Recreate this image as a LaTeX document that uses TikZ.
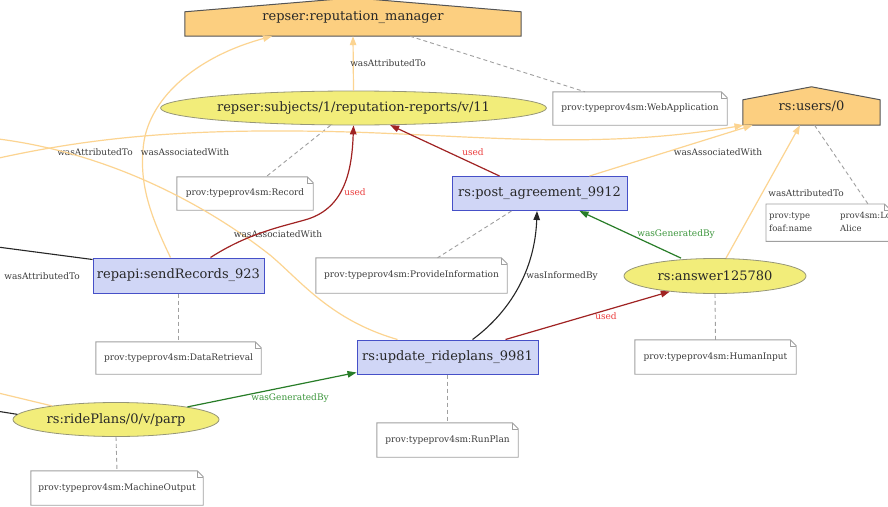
\documentclass[tikz,border=0pt]{standalone}
\usepackage{fontspec}
\setmainfont{DejaVu Serif}
\usetikzlibrary{shapes.geometric,arrows.meta,backgrounds}

\definecolor{agentfill}{RGB}{252,207,128}
\definecolor{agentline}{RGB}{85,85,85}
\definecolor{entityfill}{RGB}{242,237,122}
\definecolor{entityline}{RGB}{150,150,120}
\definecolor{actfill}{RGB}{208,214,246}
\definecolor{actline}{RGB}{70,80,200}
\definecolor{noteline}{RGB}{160,160,160}
\definecolor{attrcol}{RGB}{252,212,145}
\definecolor{usedcol}{RGB}{160,35,35}
\definecolor{usedtext}{RGB}{235,60,60}
\definecolor{gencol}{RGB}{40,125,40}
\definecolor{gentext}{RGB}{60,150,60}
\definecolor{labeltext}{RGB}{60,60,60}
\definecolor{maintext}{RGB}{40,40,40}

% PROV annotation note: box with a folded top-right corner
\newcommand{\provnote}[4][]{%
  \node[notebox,#1] (#2) at (#3) {#4};
  \draw[noteframe] (#2.north west) -- ([xshift=-6pt]#2.north east)
    -- ([yshift=-6pt]#2.north east) -- (#2.south east) -- (#2.south west) -- cycle;
  \draw[noteframe, line width=0.6pt] ([xshift=-6pt]#2.north east) |- ([yshift=-6pt]#2.north east);
}
% PROV agent: house-shaped node (name, centre, width, height, roof, text)
\newcommand{\provagent}[6]{%
  \node[agent, minimum width=#3, minimum height=#4] (#1) at (#2) {#6};
  \begin{scope}[on background layer]
    \filldraw[agentshape] (#1.south west) -- ([yshift=-#5]#1.north west) -- (#1.north)
      -- ([yshift=-#5]#1.north east) -- (#1.south east) -- cycle;
  \end{scope}
}

\begin{document}
\begin{tikzpicture}[x=1pt, y=-1pt,
  mainfont/.style={font=\fontsize{13}{15}\selectfont, text=maintext},
  agent/.style={mainfont, rectangle, inner sep=0pt},
  agentshape/.style={fill=agentfill, draw=agentline, line width=1pt},
  entity/.style={mainfont, ellipse, draw=entityline, fill=entityfill, line width=0.8pt, inner sep=0pt},
  activity/.style={mainfont, rectangle, draw=actline, fill=actfill, line width=1pt, inner sep=0pt},
  notebox/.style={rectangle, inner sep=0pt, font=\fontsize{9}{11}\selectfont, text=labeltext},
  noteframe/.style={draw=noteline, line width=0.9pt},
  edgelabel/.style={font=\fontsize{9}{11}\selectfont, text=labeltext, inner sep=0pt},
  usedlabel/.style={edgelabel, text=usedtext},
  genlabel/.style={edgelabel, text=gentext},
  tip/.style={-{Triangle[length=9pt,width=6.5pt]}},
  attrline/.style={draw=attrcol, line width=1.2pt},
  attrarrow/.style={attrline, tip},
  usedarrow/.style={draw=usedcol, line width=1.2pt, tip},
  genarrow/.style={draw=gencol, line width=1.2pt, tip},
  blackline/.style={draw=black!85, line width=1.1pt},
  blackarrow/.style={blackline, tip},
  notelink/.style={draw=noteline, line width=0.9pt, dash pattern=on 4pt off 3pt}
]
\useasboundingbox (0,0) rectangle (888,506);
\begin{scope}[on background layer]
  \fill[white] (0,0) rectangle (888,506);
\end{scope}

% ---------- agents ----------
\provagent{repman}{353,17}{336pt}{38pt}{14pt}{repser:reputation\_manager}
\provagent{users}{811.5,106}{137pt}{38pt}{13pt}{rs:users/0}

% ---------- entities ----------
\node[entity, minimum width=367pt, minimum height=34pt] (subj) at (353.5,108) {repser:subjects/1/reputation-reports/v/11};
\node[entity, minimum width=182pt, minimum height=35pt] (answer) at (715,276) {rs:answer125780};
\node[entity, minimum width=206pt, minimum height=34pt] (ride) at (116,419.5) {rs:ridePlans/0/v/parp};

% ---------- activities ----------
\node[activity, minimum width=175pt, minimum height=34pt] (post) at (539.5,193.5) {rs:post\_agreement\_9912};
\node[activity, minimum width=171pt, minimum height=35pt] (send) at (178.5,275.5) {repapi:sendRecords\_923};
\node[activity, minimum width=181pt, minimum height=34pt] (update) at (447.5,357) {rs:update\_rideplans\_9981};

% ---------- annotation notes ----------
\provnote[minimum width=174pt, minimum height=33pt]{webapp}{640,108.5}{prov:typeprov4sm:WebApplication}
\provnote[minimum width=136pt, minimum height=33pt]{rec}{245,193.5}{prov:typeprov4sm:Record}
\provnote[minimum width=191pt, minimum height=35pt]{provinfo}{411.5,275.5}{prov:typeprov4sm:ProvideInformation}
\provnote[minimum width=165pt, minimum height=32pt]{dataret}{178.5,358}{prov:typeprov4sm:DataRetrieval}
\provnote[minimum width=161pt, minimum height=34pt]{human}{715.5,357}{prov:typeprov4sm:HumanInput}
\provnote[minimum width=141pt, minimum height=34pt]{runplan}{447.5,440}{prov:typeprov4sm:RunPlan}
\provnote[minimum width=172pt, minimum height=34pt]{machine}{117,488}{prov:typeprov4sm:MachineOutput}
\provnote[anchor=north west, minimum height=37pt, text width=118pt, inner xsep=3pt, align=left,
  font=\fontsize{8.5}{13}\selectfont]{alice}{766,204}{%
  \begin{tabular}{@{}p{71pt}@{}l@{}}prov:type & prov4sm:Lo\\ foaf:name & Alice\end{tabular}}

% ---------- off-page ends ----------
\coordinate (offA) at (-10,160);
\coordinate (offB) at (-10,138);
\coordinate (offC) at (-10,246);
\coordinate (offD) at (-10,391);
\coordinate (offE) at (-10,410);

% ---------- dashed annotation links ----------
\draw[notelink] ([xshift=57pt]repman.south) -- ([xshift=-55pt]webapp.north);
\draw[notelink] ([xshift=-23pt]subj.south) -- ([xshift=21pt]rec.north);
\draw[notelink] ([xshift=3pt]users.south) -- ([xshift=102pt]alice.north west);
\draw[notelink] ([xshift=-28pt]post.south) -- ([xshift=26pt]provinfo.north);
\draw[notelink] (send.south) -- (dataret.north);
\draw[notelink] (answer.south) -- (human.north);
\draw[notelink] (update.south) -- (runplan.north);
\draw[notelink] (ride.south) -- (machine.north);

% ---------- attribution / association ----------
\draw[attrarrow] (subj.north) -- (repman.south);
\node[edgelabel] (lAttrA) at (388,63) {wasAttributedTo};

\draw[attrarrow] ([xshift=-8pt]send.north) .. controls (150,215) and (140,185) .. (143,150)
  .. controls (146,100) and (195,57) .. ([xshift=-81pt]repman.south);
\node[edgelabel] (lAssocA) at (185,152) {wasAssociatedWith};

\draw[attrarrow] (offA) .. controls (100,135) and (200,128) .. (350,132)
  .. controls (480,136) and (600,150) .. ([xshift=-68pt]users.south);
\node[edgelabel] (lAttrB) at (95,152) {wasAttributedTo};

\draw[attrarrow] ([xshift=50pt]post.north) -- ([xshift=-59pt]users.south);
\node[edgelabel] (lAssocB) at (718,152) {wasAssociatedWith};

\draw[attrarrow] ([xshift=11pt]answer.north) -- ([xshift=-11.5pt]users.south);
\node[edgelabel] (lAttrC) at (806,193) {wasAttributedTo};

\draw[attrline] ([xshift=-50pt]update.north) .. controls (330,320) and (300,280) .. (270,255)
  .. controls (200,200) and (100,150) .. (offB);
\node[edgelabel] (lAssocC) at (278,234) {wasAssociatedWith};

\draw[attrline] (offD) -- (ride.168);
\draw[blackline] (offE) -- (ride.177);

\draw[blackline] (offC) -- ([yshift=-2pt]send.north west);
\node[edgelabel, anchor=east] (lAttrD) at (80,276) {wasAttributedTo};

% ---------- usage ----------
\draw[usedarrow] ([xshift=32pt]send.north) .. controls (250,232) and (285,226) .. (308,219)
  .. controls (345,207) and (352,170) .. (subj.south);
\node[usedlabel] (lUsedA) at (355,192) {used};

\draw[usedarrow] ([xshift=-40pt]post.north) -- (subj.-25);
\node[usedlabel] (lUsedB) at (473,152) {used};

\draw[usedarrow] ([xshift=58pt]update.north) -- (answer.199);
\node[usedlabel] (lUsedC) at (606,316) {used};

% ---------- generation / communication ----------
\draw[genarrow] ([xshift=-34pt]answer.north) -- ([xshift=40pt]post.south);
\node[genlabel] (lGenA) at (676,234) {wasGeneratedBy};

\draw[genarrow] (ride.10) -- ([yshift=2pt]update.south west);
\node[genlabel] (lGenB) at (290,398) {wasGeneratedBy};

\draw[blackarrow] ([xshift=25pt]update.north) .. controls (510,312) and (535,270) .. ([xshift=-2.5pt]post.south);
\node[edgelabel] (lInf) at (562,276) {wasInformedBy};

\end{tikzpicture}
\end{document}
